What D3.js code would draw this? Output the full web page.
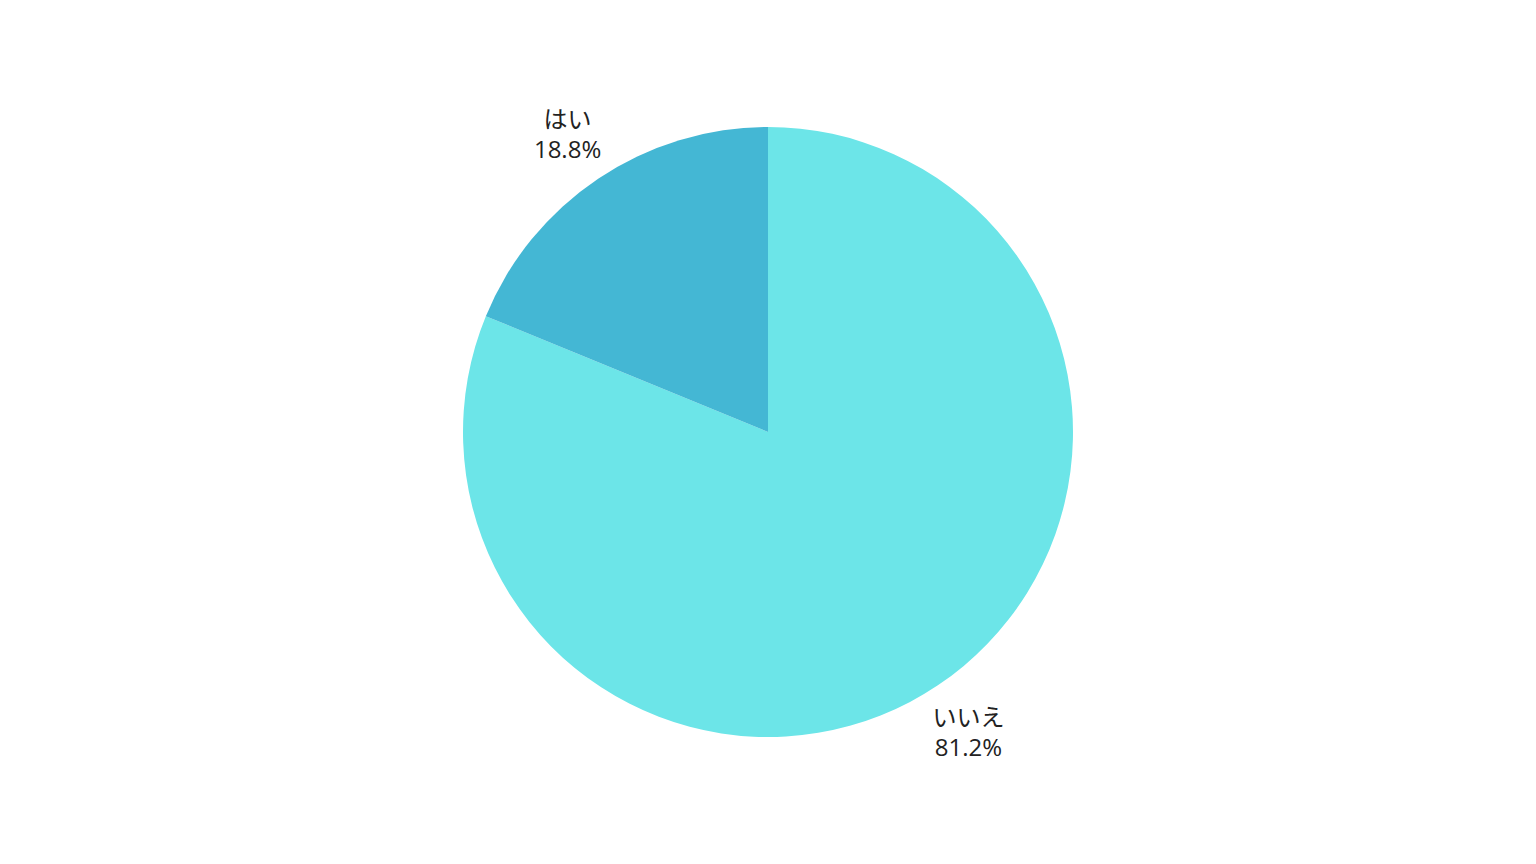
<!DOCTYPE html>
<meta charset="utf-8">
<style>
body { margin: 0; background: #fff; }
.labels text {
  font-family: "Open Sans", "Noto Sans CJK JP", sans-serif;
  font-size: 24px;
  fill: #222;
}
</style>
<svg class="chart" width="1536" height="864"></svg>
<script src="https://cdn.jsdelivr.net/npm/d3@7"></script>
<script>

var categories = ["いいえ", "はい"];
var values = [81.2, 18.8];
var colors = ["#6ce5e8", "#44b7d4"];

var svg = d3.select(".chart"),
    cx = 768,
    cy = 432,
    radius = 305;

var pie = d3.pie().sort(null).value(function(d) { return d; });
var arcs = pie(values);

var arc = d3.arc().innerRadius(0).outerRadius(radius);
var labelArc = d3.arc().innerRadius(radius * 1.18).outerRadius(radius * 1.18);

var g = svg.append("g").attr("transform", "translate(" + cx + "," + cy + ")");

g.selectAll("path")
  .data(arcs)
  .enter().append("path")
    .attr("d", arc)
    .attr("fill", function(d, i) { return colors[i]; });

// labels outside each slice, at its middle angle
var labels = g.append("g").attr("class", "labels")
  .selectAll("text")
  .data(arcs)
  .enter().append("text")
    .attr("text-anchor", "middle")
    .attr("transform", function(d) {
      return "translate(" + labelArc.centroid(d) + ")";
    });

labels.append("tspan")
  .attr("x", 0)
  .attr("dy", "-0.2em")
  .text(function(d, i) { return categories[i]; });
labels.append("tspan")
  .attr("x", 0)
  .attr("dy", "1.25em")
  .text(function(d, i) { return values[i].toFixed(1) + "%"; });

</script>
